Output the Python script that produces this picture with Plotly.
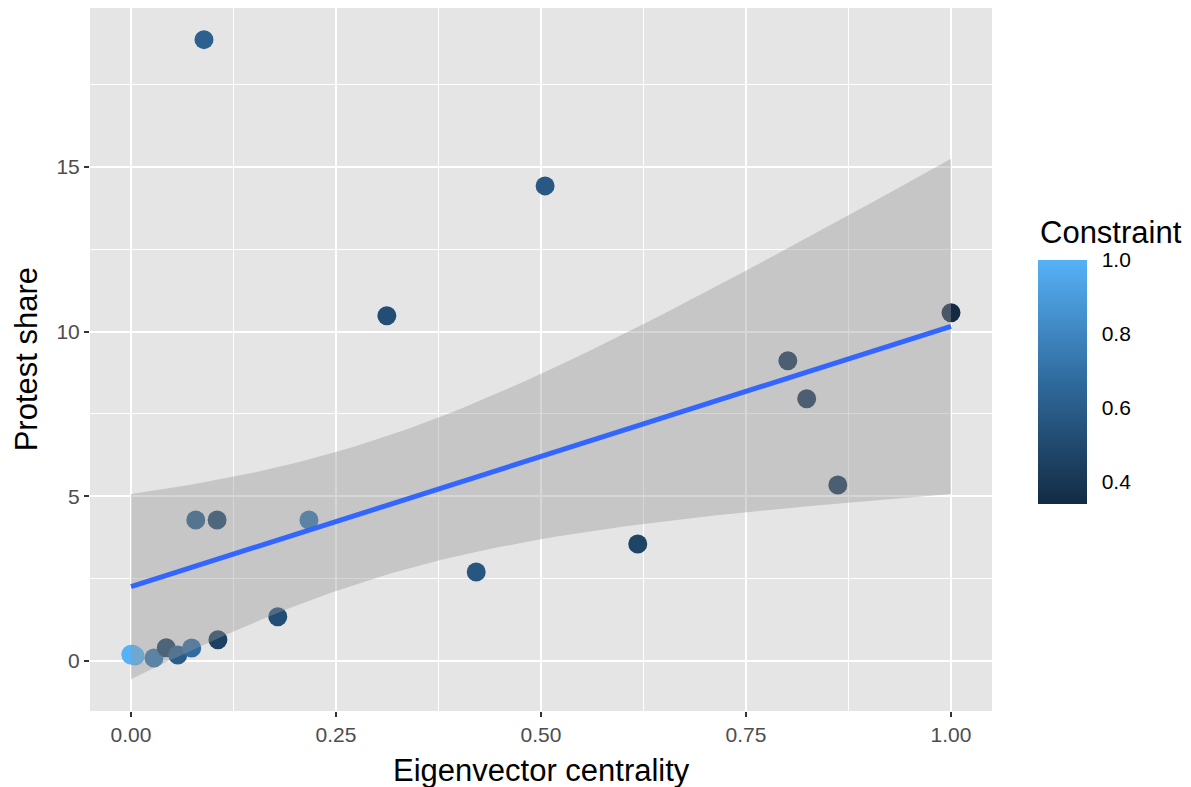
import numpy as np
import plotly.graph_objects as go

# Data (several points overlap near the origin)
centrality = [0.089, 0.505, 0.312, 1.000, 0.801, 0.824, 0.862, 0.618, 0.421,
              0.079, 0.105, 0.217, 0.179, 0.106, 0.000, 0.005, 0.028, 0.043,
              0.057, 0.074, 0.000, 0.002]
protest_share = [18.86, 14.42, 10.48, 10.57, 9.11, 7.96, 5.34, 3.55, 2.70,
                 4.28, 4.28, 4.28, 1.34, 0.64, 0.18, 0.15, 0.09, 0.40,
                 0.18, 0.39, 0.20, 0.20]
constraint = [0.62, 0.58, 0.52, 0.34, 0.42, 0.42, 0.42, 0.47, 0.57,
              0.60, 0.48, 0.72, 0.52, 0.45, 1.00, 0.98, 0.72, 0.46,
              0.60, 0.68, 1.00, 1.00]

x_ticks = [0.0, 0.25, 0.5, 0.75, 1.0]
x_tick_labels = ["0.00", "0.25", "0.50", "0.75", "1.00"]
y_ticks = [0, 5, 10, 15]
c_ticks = [0.4, 0.6, 0.8, 1.0]
c_tick_labels = ["0.4", "0.6", "0.8", "1.0"]

C_MIN, C_MAX = 0.34, 1.0

# Linear model with 95% confidence band (like geom_smooth(method="lm"))
x = np.array(centrality)
y = np.array(protest_share)
n = len(x)
slope, intercept = np.polyfit(x, y, 1)
resid = y - (intercept + slope * x)
s = np.sqrt(np.sum(resid ** 2) / (n - 2))
t_crit = 2.085963  # qt(0.975, df=20)
xg = np.linspace(x.min(), x.max(), 80)
yg = intercept + slope * xg
se = s * np.sqrt(1.0 / n + (xg - x.mean()) ** 2 / np.sum((x - x.mean()) ** 2))
upper = yg + t_crit * se
lower = yg - t_crit * se

font_family = "Liberation Sans, Arial, Helvetica, sans-serif"
TITLE_SIZE = 31
TICK_SIZE = 21

# colorbar geometry (paper coordinates)
PLOT_W, PLOT_H = 902, 703
CB_X = 1.051
CB_THICK = 49
CB_LEN = 244
CB_Y = 0.468

fig = go.Figure()

fig.add_trace(go.Scatter(
    x=centrality, y=protest_share, mode="markers",
    marker=dict(
        size=19, color=constraint, cmin=C_MIN, cmax=C_MAX,
        colorscale=[[0.0, "#132B43"], [0.5, "#2F6A9C"], [1.0, "#56B1F7"]],
        line=dict(width=0),
        colorbar=dict(
            tickvals=c_ticks, ticktext=c_tick_labels,
            tickfont=dict(size=TICK_SIZE, color="black", family=font_family),
            ticks="outside", ticklen=11, tickcolor="rgba(0,0,0,0)",
            thickness=CB_THICK, len=CB_LEN, lenmode="pixels",
            x=CB_X, xanchor="left", xpad=0,
            y=CB_Y, yanchor="middle", ypad=0,
            outlinewidth=0,
        ),
    ),
    showlegend=False, hoverinfo="skip",
))

fig.add_trace(go.Scatter(
    x=np.concatenate([xg, xg[::-1]]), y=np.concatenate([upper, lower[::-1]]),
    fill="toself", fillcolor="rgba(153,153,153,0.4)",
    line=dict(width=0), mode="lines", showlegend=False, hoverinfo="skip",
))

fig.add_trace(go.Scatter(
    x=xg, y=yg, mode="lines", line=dict(color="#3366FF", width=5),
    showlegend=False, hoverinfo="skip",
))

# white tick marks on both edges of the colorbar (ggplot style)
cb_bottom = CB_Y - CB_LEN / 2 / PLOT_H
cb_span = CB_LEN / PLOT_H
cb_left = CB_X
cb_right = CB_X + CB_THICK / PLOT_W
tick_w = 10 / PLOT_W
shapes = []
for v in c_ticks:
    yy = cb_bottom + (v - C_MIN) / (C_MAX - C_MIN) * cb_span
    for x0, x1 in [(cb_left, cb_left + tick_w), (cb_right - tick_w, cb_right)]:
        shapes.append(dict(type="line", xref="paper", yref="paper",
                           x0=x0, x1=x1, y0=yy, y1=yy,
                           line=dict(color="white", width=1.2)))

axis_common = dict(
    showline=False, zeroline=False, automargin=False,
    gridcolor="white", gridwidth=2,
    ticks="outside", ticklen=5, tickwidth=1.5, tickcolor="#333333",
    tickfont=dict(size=TICK_SIZE, color="#4D4D4D", family=font_family),
)

fig.update_layout(
    width=1191, height=787,
    margin=dict(l=82, r=207, t=0, b=84),
    paper_bgcolor="white", plot_bgcolor="#E5E5E5",
    font=dict(family=font_family),
    shapes=shapes,
    xaxis=dict(
        range=[-0.05, 1.05], tickvals=x_ticks, ticktext=x_tick_labels,
        minor=dict(tickvals=[0.125, 0.375, 0.625, 0.875], showgrid=True,
                   gridcolor="white", gridwidth=1, ticks=""),
        **axis_common,
    ),
    yaxis=dict(
        range=[-1.52, 19.82], tickvals=y_ticks,
        minor=dict(tickvals=[2.5, 7.5, 12.5, 17.5], showgrid=True,
                   gridcolor="white", gridwidth=1, ticks=""),
        **axis_common,
    ),
    annotations=[
        dict(text="Eigenvector centrality", xref="paper", yref="paper",
             x=0.5, y=-0.084, xanchor="center", yanchor="middle",
             showarrow=False,
             font=dict(size=TITLE_SIZE, color="black", family=font_family)),
        dict(text="Protest share", xref="paper", yref="paper",
             x=-0.07, y=0.5, xanchor="center", yanchor="middle",
             textangle=-90, showarrow=False,
             font=dict(size=TITLE_SIZE, color="black", family=font_family)),
        dict(text="Constraint", xref="paper", yref="paper",
             x=1.051, y=0.681, xanchor="left", yanchor="middle",
             showarrow=False,
             font=dict(size=TITLE_SIZE, color="black", family=font_family)),
    ],
)

fig.write_html("out.html")
